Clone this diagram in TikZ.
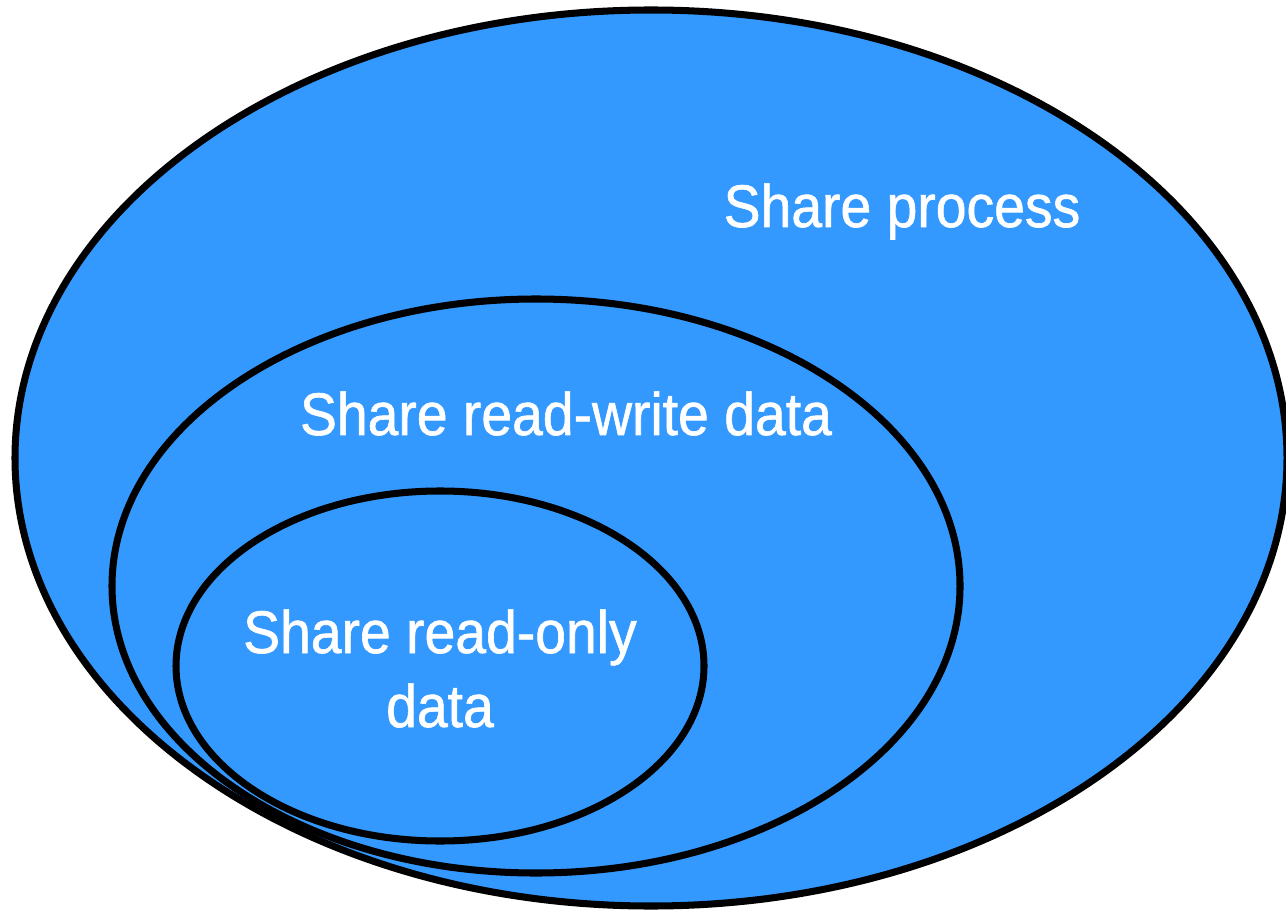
\documentclass[tikz,border=0pt]{standalone}
\usepackage{fontspec}
\setmainfont{Liberation Sans}[FakeStretch=0.92, FakeBold=1]
\definecolor{setblue}{RGB}{51,153,255}
\tikzset{
  setellipse/.style={draw=black, fill=setblue, line width=2pt},
  setlabel/.style={text=white, font=\fontsize{17.1pt}{21pt}\selectfont, anchor=base, inner sep=0pt, align=center},
}
\begin{document}
\begin{tikzpicture}[x=0.01cm, y=-0.01cm]
\useasboundingbox (0,0) rectangle (1286,910);
\draw[setellipse] (651,458) ellipse [x radius=636, y radius=448];
\draw[setellipse] (536,586) ellipse [x radius=424, y radius=287];
\draw[setellipse] (440,666) ellipse [x radius=264, y radius=175];
\node[setlabel] (proc) at (902,227) {Share process};
\node[setlabel] (rw) at (566,435) {Share read-write data};
\node[setlabel] (ro) at (440,653) {Share read-only};
\node[setlabel] (ro2) at (440,727) {data};
\end{tikzpicture}
\end{document}
